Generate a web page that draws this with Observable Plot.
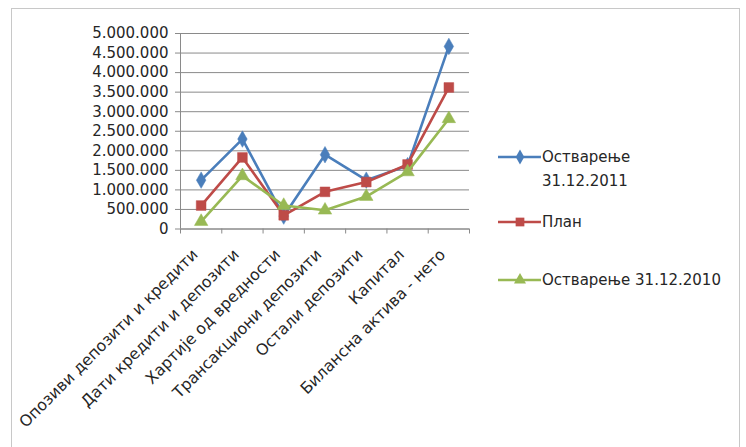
<!DOCTYPE html>
<html>
<head>
<meta charset="utf-8">
<script src="https://cdn.jsdelivr.net/npm/d3@7"></script>
<script src="https://cdn.jsdelivr.net/npm/@observablehq/plot@0.6"></script>
<style>
  html, body { margin: 0; padding: 0; background: #fff; }
  #wrap { position: relative; width: 746px; height: 447px; overflow: hidden; font-family: "DejaVu Sans", sans-serif; color: #262626; }
  #frame { position: absolute; left: 11px; top: 8px; width: 729px; height: 470px; border: 1px solid #c8c8c8; box-sizing: border-box; }
  #chart { position: absolute; left: 0; top: 0; }
  .leg { position: absolute; left: 497px; font-size: 15px; line-height: 24px; }
  .leg svg { position: absolute; left: 0; top: 0; }
  .leg span { position: absolute; left: 45px; top: 0; white-space: nowrap; }
</style>
</head>
<body>
<div id="wrap">
  <div id="frame"></div>
  <div id="chart"></div>
  <div id="legend"></div>
</div>
<script>
// Balance sheet positions (in thousands of dinars)
const categories = [
  "Опозиви депозити и кредити",
  "Дати кредити и депозити",
  "Хартије од вредности",
  "Трансакциони депозити",
  "Остали депозити",
  "Капитал",
  "Билансна актива - нето"
];

const seriesNames = ["Остварење 31.12.2011", "План", "Остварење 31.12.2010"];

const actual2011 = [1250000, 2300000, 330000, 1900000, 1250000, 1620000, 4670000];
const plan       = [600000, 1830000, 350000, 950000, 1200000, 1650000, 3620000];
const actual2010 = [190000, 1360000, 600000, 480000, 830000, 1460000, 2820000];

const yTicks = [0, 500000, 1000000, 1500000, 2000000, 2500000, 3000000, 3500000, 4000000, 4500000, 5000000];

const colors = ["#4A7EBB", "#BE4B48", "#98B954"];
const symbols = ["diamond", "square", "triangle"];
const radii = [5, 5.5, 5];

const seriesValues = [actual2011, plan, actual2010];

// Serbian number format: dot as thousands separator
const fmt = d3.formatLocale({decimal: ",", thousands: ".", grouping: [3], currency: ["", ""]}).format(",d");

const idx = categories.map((_, i) => i);
const boundaries = d3.range(-0.5, categories.length, 1);

const seriesMarks = [];
seriesValues.forEach((vals, s) => {
  const rows = vals.map((v, i) => ({i, v}));
  seriesMarks.push(
    Plot.line(rows, {x: "i", y: "v", stroke: colors[s], strokeWidth: 2.6, curve: "linear"}),
    Plot.dot(rows, {x: "i", y: "v", symbol: () => symbols[s], fill: colors[s], stroke: colors[s], strokeWidth: 0.5, r: radii[s]})
  );
});

const chart = Plot.plot({
  width: 746,
  height: 447,
  marginLeft: 180,
  marginRight: 277,
  marginTop: 33,
  marginBottom: 218.5,
  style: {fontFamily: "DejaVu Sans, sans-serif", fontSize: "15px", color: "#262626", background: "transparent"},
  x: {type: "linear", domain: [-0.5, categories.length - 0.5]},
  y: {domain: [0, 5000000]},
  symbol: {type: "identity"},
  marks: [
    Plot.gridY(yTicks, {stroke: "#8a8a8a", strokeOpacity: 1, strokeWidth: 1}),
    Plot.axisY(yTicks, {tickSize: 5, tickPadding: 7, tickFormat: fmt, stroke: "#8a8a8a", fill: "#262626", label: null}),
    Plot.ruleX([-0.5], {stroke: "#8a8a8a"}),
    Plot.ruleY([0], {stroke: "#8a8a8a"}),
    Plot.axisX(boundaries, {tickSize: 5, tickFormat: () => "", stroke: "#8a8a8a", label: null}),
    Plot.axisX(idx, {tickSize: 0, tickRotate: -45, tickPadding: 8, dx: -6, dy: 15, fontSize: 15.8, tickFormat: i => categories[i], fill: "#262626", label: null}),
    ...seriesMarks
  ]
});
document.getElementById("chart").appendChild(chart);

// Legend: line-with-marker swatches beside the plot
const legendTops = [145, 210, 268];
const legendLines = [["Остварење", "31.12.2011"], ["План"], ["Остварење 31.12.2010"]];
const legend = d3.select("#legend");
seriesNames.forEach((name, s) => {
  const item = legend.append("div").attr("class", "leg").style("top", legendTops[s] + "px");
  const svg = item.append("svg").attr("width", 46).attr("height", 24);
  svg.append("line").attr("x1", 1).attr("x2", 44).attr("y1", 12).attr("y2", 12)
    .attr("stroke", colors[s]).attr("stroke-width", 2.6);
  const symType = [d3.symbolDiamond, d3.symbolSquare, d3.symbolTriangle][s];
  svg.append("path").attr("transform", "translate(23,12)")
    .attr("d", d3.symbol(symType, Math.PI * radii[s] * radii[s] * 0.8)())
    .attr("fill", colors[s]);
  item.append("span").attr("title", name).html(legendLines[s].join("<br>"));
});
</script>
</body>
</html>
